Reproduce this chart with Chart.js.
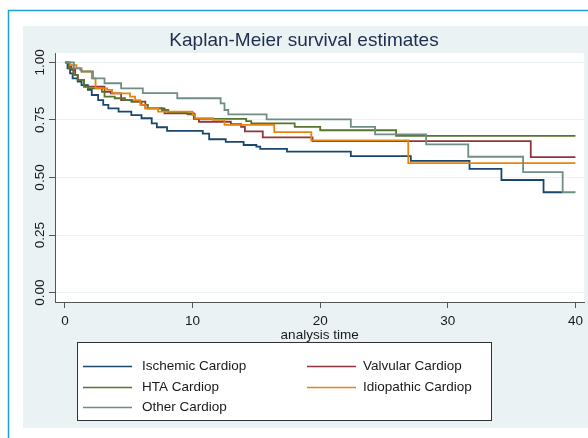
<!DOCTYPE html>
<html lang="en">
<head>
    <meta charset="UTF-8">
    <title>Kaplan-Meier survival estimates</title>
    <style>
        body {
            margin: 0;
            background: #ffffff;
        }
        #kmChart {
            display: block;
        }
    </style>
    <script src="https://cdn.jsdelivr.net/npm/chart.js@4/dist/chart.umd.min.js"></script>
</head>
<body>
    <canvas id="kmChart" width="588" height="438"></canvas>

    <script>
        // step curves: time of each drop and survival right after it
        const groupLabels = ['Ischemic Cardiop', 'Valvular Cardiop', 'HTA Cardiop', 'Idiopathic Cardiop', 'Other Cardiop'];

        const ischemicTime = [0, 0.2, 0.4, 0.6, 1.0, 1.3, 1.8, 2.1, 2.6, 3.0, 3.4, 4.2, 5.2, 6.0, 6.8, 7.2, 8.0, 10.8, 11.3, 12.6, 14.0, 15.0, 15.3, 17.4, 22.4, 27.1, 31.7, 34.2, 37.5, 39.0];
        const ischemicSurv = [1, 0.974, 0.952, 0.93, 0.916, 0.901, 0.88, 0.858, 0.836, 0.815, 0.8, 0.786, 0.771, 0.757, 0.735, 0.718, 0.702, 0.69, 0.666, 0.655, 0.641, 0.634, 0.624, 0.612, 0.593, 0.572, 0.537, 0.489, 0.436, 0.436];

        const valvularTime = [0, 0.3, 0.5, 0.8, 1.0, 1.5, 3.1, 3.6, 4.4, 5.2, 6.3, 7.8, 10.1, 10.5, 13.0, 13.8, 14.1, 15.5, 19.4, 36.5, 40];
        const valvularSurv = [1, 0.985, 0.967, 0.945, 0.923, 0.894, 0.872, 0.865, 0.836, 0.829, 0.8, 0.778, 0.754, 0.742, 0.731, 0.72, 0.7, 0.674, 0.658, 0.588, 0.588];

        const htaTime = [0, 0.3, 0.65, 1.0, 1.5, 1.8, 2.9, 3.1, 3.9, 4.7, 5.3, 6.0, 6.5, 7.6, 8.1, 9.6, 10.2, 14.2, 14.6, 18.0, 20.0, 25.95, 40];
        const htaSurv = [1, 0.974, 0.945, 0.923, 0.894, 0.887, 0.872, 0.851, 0.844, 0.836, 0.829, 0.815, 0.8, 0.793, 0.783, 0.774, 0.754, 0.745, 0.735, 0.72, 0.705, 0.681, 0.681];

        const idiopathicTime = [0, 0.4, 0.9, 1.3, 2.1, 2.4, 3.3, 3.7, 5.1, 5.5, 5.9, 6.3, 7.3, 10.0, 10.2, 11.6, 12.5, 16.4, 19.3, 26.9, 40];
        const idiopathicSurv = [1, 0.988, 0.975, 0.96, 0.93, 0.887, 0.88, 0.865, 0.851, 0.836, 0.815, 0.8, 0.786, 0.771, 0.757, 0.75, 0.728, 0.697, 0.661, 0.562, 0.562];

        const otherTime = [0, 0.7, 1.2, 1.3, 2.2, 3.1, 4.4, 6.1, 8.8, 12.2, 12.5, 12.8, 15.8, 22.4, 24.3, 28.3, 31.6, 35.9, 39.0, 40];
        const otherSurv = [1, 0.974, 0.967, 0.96, 0.93, 0.909, 0.887, 0.866, 0.844, 0.822, 0.793, 0.774, 0.752, 0.72, 0.687, 0.644, 0.59, 0.523, 0.436, 0.436];

        const xTicks = [0, 10, 20, 30, 40];
        const yTicks = [0, 0.25, 0.5, 0.75, 1];

        const colors = ['#1a476f', '#90353b', '#55752f', '#e8830f', '#6e8e84'];
        const textColor = '#1a1a1a';
        const fontFamily = '"Liberation Sans", Arial, sans-serif';

        function toPoints(times, surv) {
            return times.map((t, i) => ({ x: t, y: surv[i] }));
        }

        const series = [
            toPoints(ischemicTime, ischemicSurv),
            toPoints(valvularTime, valvularSurv),
            toPoints(htaTime, htaSurv),
            toPoints(idiopathicTime, idiopathicSurv),
            toPoints(otherTime, otherSurv)
        ];

        // outer frame, grey graph region and white plot region
        const backdrop = {
            id: 'backdrop',
            beforeDraw(chart) {
                const ctx = chart.ctx;
                const area = chart.chartArea;
                ctx.save();
                ctx.fillStyle = '#ffffff';
                ctx.fillRect(0, 0, chart.width, chart.height);
                ctx.fillStyle = '#eaf2f3';
                ctx.fillRect(23, 26, chart.width - 23, 402);
                ctx.strokeStyle = '#1a9fdb';
                ctx.lineWidth = 1.5;
                ctx.strokeRect(8.5, 10.5, chart.width + 20, chart.height + 20);
                ctx.fillStyle = '#ffffff';
                ctx.fillRect(area.left, area.top, area.right - area.left, area.bottom - area.top);
                ctx.restore();
            }
        };

        // vertical y tick labels, as Stata draws them
        const yLabels = {
            id: 'yLabels',
            afterDraw(chart) {
                const ctx = chart.ctx;
                const scale = chart.scales.y;
                ctx.save();
                ctx.font = '13.5px ' + fontFamily;
                ctx.fillStyle = textColor;
                ctx.textAlign = 'center';
                ctx.textBaseline = 'middle';
                scale.ticks.forEach(tick => {
                    const y = scale.getPixelForValue(tick.value);
                    ctx.save();
                    ctx.translate(40, y);
                    ctx.rotate(-Math.PI / 2);
                    ctx.fillText(tick.value.toFixed(2), 0, 0);
                    ctx.restore();
                });
                ctx.restore();
            }
        };

        // boxed legend in two columns
        const boxLegend = {
            id: 'boxLegend',
            afterDraw(chart) {
                const ctx = chart.ctx;
                const box = { x: 77.5, y: 342.5, w: 414, h: 78 };
                const rows = [366.5, 387.5, 407.5];
                const cols = [{ line: 83, text: 142 }, { line: 307, text: 363 }];
                ctx.save();
                ctx.fillStyle = '#ffffff';
                ctx.fillRect(box.x, box.y, box.w, box.h);
                ctx.strokeStyle = '#333333';
                ctx.lineWidth = 1;
                ctx.strokeRect(box.x, box.y, box.w, box.h);
                ctx.font = '13.5px ' + fontFamily;
                ctx.textBaseline = 'middle';
                chart.data.datasets.forEach((ds, i) => {
                    const col = cols[i % 2];
                    const y = rows[Math.floor(i / 2)];
                    ctx.strokeStyle = ds.borderColor;
                    ctx.lineWidth = 1.5;
                    ctx.beginPath();
                    ctx.moveTo(col.line, y);
                    ctx.lineTo(col.line + 49, y);
                    ctx.stroke();
                    ctx.fillStyle = textColor;
                    ctx.fillText(ds.label, col.text, y);
                });
                ctx.restore();
            }
        };

        const ctx = document.getElementById('kmChart').getContext('2d');

        new Chart(ctx, {
            type: 'line',
            data: {
                datasets: groupLabels.map((label, i) => ({
                    label: label,
                    data: series[i],
                    borderColor: colors[i],
                    borderWidth: 1.8,
                    stepped: 'before',
                    pointRadius: 0,
                    fill: false,
                    order: groupLabels.length - i
                }))
            },
            options: {
                responsive: false,
                animation: false,
                events: [],
                layout: {
                    padding: { left: 23, top: 26, right: 3, bottom: 96 }
                },
                scales: {
                    x: {
                        type: 'linear',
                        min: -0.78,
                        max: 40.69,
                        afterBuildTicks: scale => {
                            scale.ticks = xTicks.map(v => ({ value: v }));
                        },
                        afterFit: scale => {
                            scale.height = 40;
                        },
                        ticks: {
                            color: textColor,
                            padding: 5,
                            maxRotation: 0,
                            font: { family: fontFamily, size: 13.5 }
                        },
                        grid: {
                            drawOnChartArea: false,
                            tickLength: 6,
                            tickColor: '#555555'
                        },
                        border: { color: '#555555', width: 1 },
                        title: {
                            display: true,
                            text: 'analysis time',
                            color: textColor,
                            padding: 0,
                            font: { family: fontFamily, size: 13.5, lineHeight: 1 }
                        }
                    },
                    y: {
                        type: 'linear',
                        min: -0.0404,
                        max: 1.0403,
                        afterBuildTicks: scale => {
                            scale.ticks = yTicks.map(v => ({ value: v }));
                        },
                        afterFit: scale => {
                            scale.width = 32;
                        },
                        ticks: { display: false },
                        grid: {
                            color: '#eaf2f3',
                            lineWidth: 1,
                            tickLength: 6,
                            tickColor: '#555555'
                        },
                        border: { color: '#555555', width: 1 }
                    }
                },
                plugins: {
                    legend: { display: false },
                    tooltip: { enabled: false },
                    title: {
                        display: true,
                        text: 'Kaplan-Meier survival estimates',
                        color: '#1f2d4e',
                        padding: { top: 3.5, bottom: 0.7 },
                        font: { family: fontFamily, size: 19, weight: 'normal', lineHeight: 1.2 }
                    }
                }
            },
            plugins: [backdrop, yLabels, boxLegend]
        });
    </script>
</body>
</html>
